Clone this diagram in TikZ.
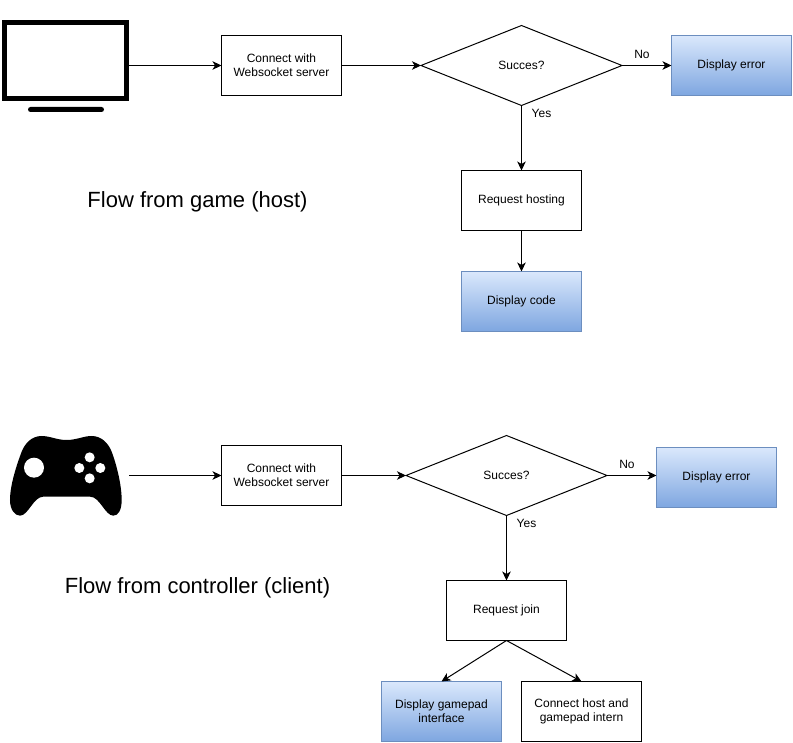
\documentclass[tikz,border=0pt]{standalone}
\usepackage{fontspec}
\setmainfont{Liberation Sans}
\usetikzlibrary{arrows.meta,shapes.geometric}
\definecolor{gtop}{HTML}{DAE8FC}
\definecolor{gbot}{HTML}{7EA6E0}
\definecolor{gline}{HTML}{6C8EBF}
\tikzset{
  flowbox/.style={draw=black,line width=1pt,fill=white,minimum width=120pt,minimum height=60pt,inner sep=0pt,outer sep=0pt,align=center,font=\fontsize{12}{14}\selectfont},
  bluebox/.style={flowbox,draw=gline,top color=gtop,bottom color=gbot,middle color=gtop!50!gbot},
  decision/.style={flowbox,shape=diamond,aspect=2.5125,minimum width=201pt,minimum height=80pt},
  conn/.style={draw=black,line width=1pt,-{Stealth[length=9pt,width=8.5pt,inset=2.5pt]}},
  edgelabel/.style={font=\fontsize{12}{14}\selectfont,inner sep=0pt},
  biglabel/.style={font=\fontsize{22}{25}\selectfont,inner sep=0pt},
}
\begin{document}
\begin{tikzpicture}[x=1pt,y=-1pt]
\useasboundingbox (0,0) rectangle (793,743);
\fill[white] (0,0) rectangle (793,743);
% television
\node[draw=black,line width=5pt,fill=white,minimum width=122pt,minimum height=76pt,inner sep=0pt,outer sep=2.5pt] (tv) at (65.5,60.5) {};
\node[fill=black,rounded corners=2.5pt,minimum width=76pt,minimum height=5pt,inner sep=0pt] (stand) at (66,109.5) {};
% controller
\begin{scope}[shift={(0,425)},x=0.33333pt,y=-0.33333pt]
\fill[black] (125,33) .. controls (150,33) and (170,45) .. (200,45)
  .. controls (230,45) and (250,33) .. (275,33)
  .. controls (305,33) and (325,55) .. (335,80)
  .. controls (350,120) and (365,180) .. (365,225)
  .. controls (365,255) and (355,272) .. (340,272)
  .. controls (315,272) and (300,215) .. (270,215)
  -- (130,215)
  .. controls (100,215) and (85,272) .. (60,272)
  .. controls (45,272) and (30,255) .. (30,225)
  .. controls (30,180) and (50,120) .. (65,80)
  .. controls (75,55) and (95,33) .. (125,33) -- cycle;
\fill[white] (102,128) circle (30);
\fill[white] (269,97) circle (15);
\fill[white] (238,129) circle (15);
\fill[white] (301,129) circle (15);
\fill[white] (269,160) circle (15);
\coordinate (pad) at (388,151.5);
\end{scope}
% top flow
\node[flowbox] (c1) at (281.5,65.5) {Connect with\\Websocket server};
\node[decision] (d1) at (521.5,65.5) {Succes?};
\node[bluebox] (e1) at (731.5,65.5) {Display error};
\node[flowbox] (r1) at (521.5,200.5) {Request hosting};
\node[bluebox] (k1) at (521.5,301.5) {Display code};
\draw[conn] (tv.east |- c1.west) -- (c1.west);
\draw[conn] (c1.east) -- (d1.west);
\draw[conn] (d1.east) -- (e1.west);
\draw[conn] (d1.south) -- (r1.north);
\draw[conn] (r1.south) -- (k1.north);
\node[edgelabel] (n1) at (642,54.5) {No};
\node[edgelabel] (y1) at (541.5,113.5) {Yes};
\node[biglabel] (t1) at (197.5,201.5) {Flow from game (host)};
% bottom flow
\node[flowbox] (c2) at (281.5,475.5) {Connect with\\Websocket server};
\node[decision] (d2) at (506.5,475.5) {Succes?};
\node[bluebox] (e2) at (716.5,477.5) {Display error};
\node[flowbox] (r2) at (506.5,610.5) {Request join};
\node[bluebox] (g2) at (441.5,711.5) {Display gamepad\\interface};
\node[flowbox] (h2) at (581.5,711.5) {Connect host and\\gamepad intern};
\draw[conn] (pad |- c2.west) -- (c2.west);
\draw[conn] (c2.east) -- (d2.west);
\draw[conn] (d2.east) -- (e2.west |- d2.east);
\draw[conn] (d2.south) -- (r2.north);
\draw[conn] (r2.south) -- (g2.north);
\draw[conn] (r2.south) -- (h2.north);
\node[edgelabel] (n2) at (627,464.5) {No};
\node[edgelabel] (y2) at (526.5,523.5) {Yes};
\node[biglabel] (t2) at (197.5,587.5) {Flow from controller (client)};
\end{tikzpicture}
\end{document}
